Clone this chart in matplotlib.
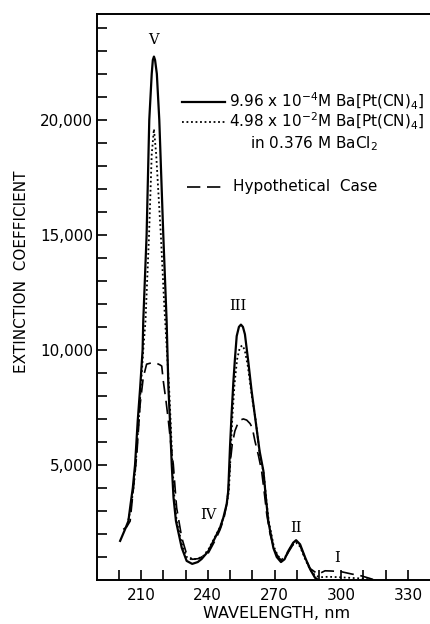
import matplotlib
matplotlib.use('Agg')
import matplotlib.pyplot as plt
from matplotlib.lines import Line2D

plt.rcParams['font.family'] = ['DejaVu Sans']
plt.rcParams['mathtext.default'] = 'regular'

# Ba[Pt(CN)4] absorption spectra, wavelength (nm) vs extinction coefficient
dilute_nm = [200.6, 202.8, 204.3, 205.3, 206.3, 207.3, 208.5, 209.6, 210.7, 211.0,
             212.5, 213.7, 214.8, 215.3, 215.8, 216.3, 217.1, 218.2, 220.0, 221.5,
             222.3, 223.0, 223.8, 224.6, 225.7, 228.3, 230.5, 233.0, 235.5, 237.2,
             240.3, 243.3, 245.5, 247.0, 248.5, 249.2, 250.0, 250.7, 251.5, 252.2,
             253.0, 254.0, 254.9, 255.8, 256.7, 258.2, 259.7, 261.5, 263.3, 265.0,
             266.2, 267.2, 269.5, 271.0, 272.9, 274.5, 276.2, 278.4, 279.7, 281.5,
             283.8, 286.0, 288.2, 289.7]
dilute_eps = [1700, 2200, 2560, 3300, 4010, 5000, 6910, 8360, 10000, 11260,
              15000, 20000, 22000, 22600, 22750, 22600, 22000, 20000, 15000, 11260,
              8360, 6910, 5000, 3580, 2560, 1400, 830, 700, 780, 910,
              1260, 1840, 2270, 2710, 3300, 3870, 5800, 7200, 8600, 9600,
              10600, 11000, 11100, 11000, 10680, 9500, 8220, 6910, 5600, 4740,
              3500, 2560, 1390, 1000, 780, 900, 1260, 1620, 1730, 1550,
              970, 470, 100, 0]

conc_nm = [204.3, 205.5, 206.6, 207.6, 208.8, 209.9, 211.0, 212.0, 213.6, 214.8,
           215.8, 216.8, 218.9, 220.4, 221.6, 222.6, 223.3, 224.1, 225.0, 226.0,
           228.5, 230.5, 233.0, 236.0, 238.0, 240.3, 243.3, 245.5, 247.2, 248.7,
           249.5, 250.3, 251.0, 252.0, 253.2, 254.4, 255.5, 256.6, 258.0, 259.8,
           261.6, 263.3, 265.2, 266.3, 267.4, 269.7, 271.5, 273.2, 274.8, 276.4,
           278.4, 279.7, 281.5, 283.8, 286.0, 288.2, 290.4, 294.0, 297.0, 303.0,
           308.4, 315.0]
conc_eps = [2600, 3200, 4000, 5000, 6700, 8360, 10000, 11260, 15000, 18500,
            19600, 18500, 15000, 12000, 10000, 8360, 6910, 5000, 3580, 2560,
            1500, 1000, 880, 950, 1050, 1330, 1880, 2300, 2750, 3350,
            3900, 5500, 7000, 8500, 9600, 10100, 10200, 10000, 9300, 8000,
            6910, 5500, 4600, 3500, 2560, 1450, 1050, 900, 1000, 1300,
            1550, 1620, 1450, 900, 450, 200, 120, 140, 130, 100,
            70, 0]

hypo_nm = [202.0, 203.5, 205.1, 206.6, 208.1, 209.6, 211.0, 212.5, 214.0, 215.5,
           217.0, 218.5, 219.3, 220.0, 221.2, 222.3, 223.4, 224.5, 225.3, 226.0,
           228.3, 230.5, 233.0, 236.0, 240.3, 243.3, 245.5, 247.2, 248.5, 249.2,
           250.0, 251.0, 252.2, 253.5, 254.8, 256.0, 257.5, 259.0, 260.0, 261.2,
           262.8, 264.2, 265.4, 266.5, 268.0, 270.0, 271.8, 273.2, 274.8, 276.2,
           278.4, 279.7, 281.5, 283.8, 286.0, 289.6, 292.7, 295.7, 300.0, 304.7,
           309.0, 312.5, 315.0]
hypo_eps = [2200, 2300, 2560, 4010, 5460, 7640, 8800, 9380, 9420, 9440,
            9420, 9350, 9300, 8650, 7800, 6910, 5900, 5030, 4000, 3140,
            1840, 1120, 900, 930, 1180, 1720, 2180, 2650, 3300, 3870,
            5000, 5900, 6480, 6800, 6960, 7000, 6950, 6800, 6620, 6040,
            5400, 4740, 3800, 2870, 2000, 1300, 980, 850, 950, 1200,
            1550, 1650, 1500, 950, 500, 250, 400, 390, 360, 260,
            180, 80, 0]

# band labels and where they sit
band_names = ['V', 'IV', 'III', 'II', 'I']
band_nm = [215.4, 240.3, 253.7, 279.7, 298.0]
band_eps = [23480, 2830, 11910, 2270, 970]

x_ticks = list(range(200, 340, 10))
x_labels = ['210', '240', '270', '300', '330']
y_ticks = [5000, 10000, 15000, 20000]
y_labels = ['5,000', '10,000', '15,000', '20,000']

W, H = 430, 624


def fig_xy(px, py):
    return px / W, 1 - py / H


fig = plt.figure(figsize=(4.3, 6.24), dpi=100)
ax = fig.add_axes([97 / W, 1 - 580 / H, 1 - 97 / W, (580 - 14) / H])

ax.plot(dilute_nm, dilute_eps, color='black', lw=1.6, solid_joinstyle='round')
ax.plot(conc_nm, conc_eps, color='black', lw=1.3, linestyle=(0, (1, 1.5)))
ax.plot(hypo_nm, hypo_eps, color='black', lw=1.2, linestyle=(0, (8, 4)))

for name, x, y in zip(band_names, band_nm, band_eps):
    ax.text(x, y, name, family='DejaVu Serif', fontsize=10.5,
            ha='center', va='center')

ax.set_xlim(190.2, 339.9)
ax.set_ylim(0, 24600)

ax.set_xticks(x_ticks)
ax.set_xticklabels(['' if str(t) not in x_labels else str(t) for t in x_ticks])
ax.set_yticks(y_ticks)
ax.set_yticklabels(y_labels)
ax.set_yticks(range(1000, 25000, 1000), minor=True)
ax.tick_params(axis='both', which='both', direction='in', length=7,
               width=1.2, labelsize=11)
ax.tick_params(axis='x', pad=6)
ax.tick_params(axis='y', pad=3)

ax.spines['right'].set_visible(False)
for side in ['left', 'bottom', 'top']:
    ax.spines[side].set_linewidth(1.4)

# legend drawn by hand so the second entry can wrap onto two lines
leg = [((182, 225), 101.7, '-', 1.6),
       ((182, 225), 121.7, (0, (1, 1.5)), 1.3),
       ((187, 225), 186.7, (0, (8, 4)), 1.2)]
for (x0, x1), py, ls, lw in leg:
    a = fig_xy(x0, py)
    b = fig_xy(x1, py)
    fig.add_artist(Line2D([a[0], b[0]], [a[1], b[1]], color='black',
                          lw=lw, linestyle=ls))

fig.text(*fig_xy(229, 101.7), r'9.96 x 10$^{-4}$M Ba$\left[Pt(CN)_4\right]$',
         fontsize=11, ha='left', va='center')
fig.text(*fig_xy(229, 121.7), r'4.98 x 10$^{-2}$M Ba$\left[Pt(CN)_4\right]$',
         fontsize=11, ha='left', va='center')
fig.text(*fig_xy(250, 143.3), r'in 0.376 M BaCl$_2$',
         fontsize=11, ha='left', va='center')
fig.text(*fig_xy(233, 186.7), 'Hypothetical  Case',
         fontsize=11, ha='left', va='center')

fig.text(*fig_xy(22, 272), 'EXTINCTION  COEFFICIENT', fontsize=11,
         rotation=90, ha='center', va='center')
fig.text(*fig_xy(277, 614), 'WAVELENGTH, nm', fontsize=11.5,
         ha='center', va='center')

fig.savefig('out.png', dpi=100)
plt.close(fig)
